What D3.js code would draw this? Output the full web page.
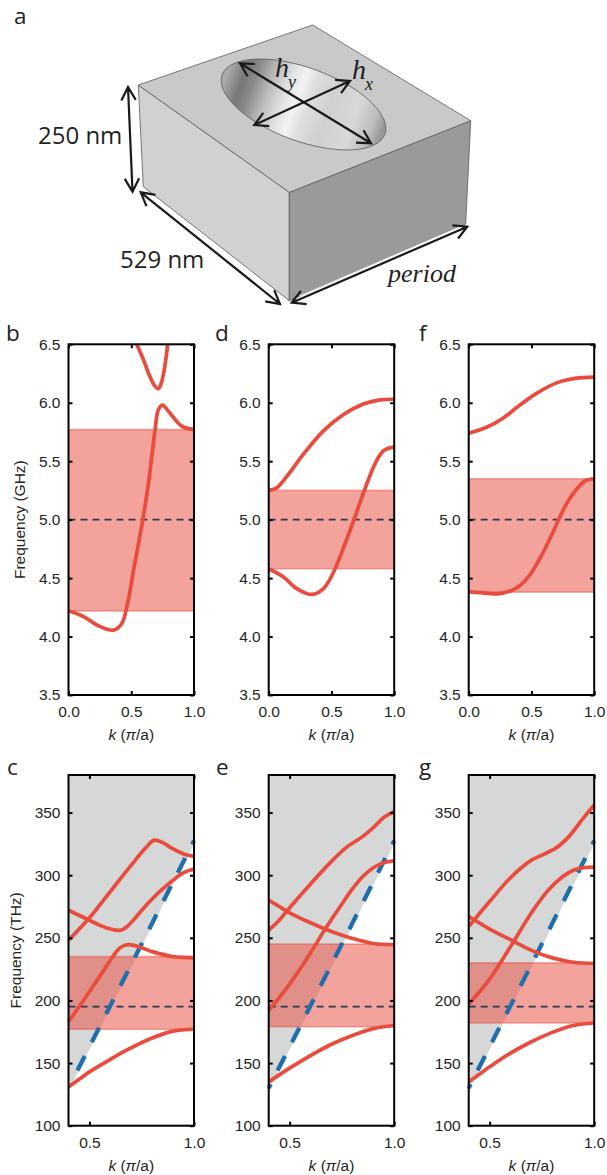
<!DOCTYPE html>
<html><head><meta charset="utf-8">
<script src="https://cdn.jsdelivr.net/npm/d3@7/dist/d3.min.js"></script>
<style>
html,body{margin:0;padding:0;background:#fff}
svg{display:block}
text{fill:#231f20}
</style></head><body>
<svg id="fig" width="607" height="1175"></svg>
<script>
// ---------- data: [k, frequency] ----------
const topYTicks = [3.5,4.0,4.5,5.0,5.5,6.0,6.5];
const topXTicks = [0,0.5,1];
const botYTicks = [100,150,200,250,300,350];
const botXTicks = [0.5,1];

const bLower = [[0,4.22],[0.119,4.17],[0.252,4.085],[0.358,4.055],[0.424,4.11],[0.47,4.28],[0.517,4.56],[0.592,5.0],[0.637,5.31],[0.69,5.77],[0.716,5.94],[0.748,5.98],[0.809,5.91],[0.902,5.80],[1,5.77]];
const bUpper = [[0.544,6.5],[0.6,6.36],[0.65,6.22],[0.69,6.14],[0.716,6.12],[0.74,6.17],[0.77,6.33],[0.79,6.5]];
const dLower = [[0,4.58],[0.117,4.51],[0.223,4.41],[0.343,4.36],[0.436,4.41],[0.516,4.55],[0.596,4.76],[0.676,4.99],[0.769,5.27],[0.848,5.48],[0.915,5.59],[1,5.62]];
const dUpper = [[0,5.25],[0.06,5.27],[0.144,5.37],[0.277,5.56],[0.436,5.76],[0.596,5.90],[0.755,5.99],[0.888,6.025],[1,6.03]];
const fLower = [[0,4.385],[0.093,4.375],[0.227,4.365],[0.333,4.39],[0.413,4.44],[0.493,4.535],[0.573,4.68],[0.653,4.85],[0.725,5.02],[0.787,5.15],[0.867,5.27],[0.933,5.335],[1,5.35]];
const fUpper = [[0,5.74],[0.143,5.79],[0.276,5.87],[0.408,5.98],[0.541,6.08],[0.7,6.17],[0.859,6.21],[1,6.22]];

const c1 = [[0.4,131],[0.45,137],[0.5,143],[0.6,153],[0.68,160.5],[0.8,170],[0.9,175.5],[1,177]];
const c2 = [[0.4,183],[0.5,207],[0.576,226],[0.62,237],[0.65,242.5],[0.688,244.5],[0.75,242],[0.8,239],[0.9,235],[1,234]];
const c3 = [[0.4,248],[0.5,266],[0.6,287],[0.7,308],[0.77,322],[0.81,328],[0.85,326],[0.9,321],[0.95,317],[1,315]];
const c4 = [[0.4,272],[0.45,268],[0.5,264],[0.55,260],[0.6,257],[0.648,256],[0.68,259],[0.72,266],[0.75,272],[0.8,281],[0.85,289],[0.9,296],[0.95,302],[1,305]];
const e1 = [[0.4,135],[0.5,146],[0.6,156],[0.7,165],[0.8,172],[0.9,177.5],[1,180]];
const e2 = [[0.4,192],[0.5,213],[0.6,238],[0.67,257],[0.75,277],[0.8,289],[0.85,299],[0.9,306],[0.95,310],[1,311.5]];
const e3 = [[0.4,256],[0.45,264],[0.5,274],[0.6,293],[0.7,311],[0.77,322],[0.85,331],[0.9,338],[0.95,346],[1,351]];
const e4 = [[0.4,280],[0.45,275],[0.5,270],[0.6,262],[0.7,255],[0.8,249.5],[0.9,245.5],[1,244.5]];
const g1 = [[0.4,135],[0.45,141],[0.5,147],[0.6,158],[0.7,167],[0.8,174.5],[0.9,180],[1,182]];
const g2 = [[0.4,197],[0.5,217],[0.6,243],[0.7,270],[0.78,288],[0.85,299],[0.9,304],[0.95,306],[1,306.5]];
const g3 = [[0.4,259],[0.5,279],[0.6,298],[0.7,312],[0.75,316],[0.82,322],[0.88,331],[0.95,346],[1,356]];
const g4 = [[0.4,267],[0.45,262],[0.5,257],[0.6,248.5],[0.7,240],[0.8,234],[0.9,230.5],[1,229.5]];

const grayEdge = [[0.4,128],[1,325]];
const lightLine = [[0.4,130],[1,327.5]];
const lightLineC = [[0.43,139.9],[1,327.5]];

const panelNames = ["b","d","f","c","e","g"];
const panelBands = {b:[4.22,5.77],d:[4.58,5.25],f:[4.38,5.35],c:[177,235],e:[179,245],g:[182,230]};
const panelCurves = {b:[bLower,bUpper],d:[dLower,dUpper],f:[fLower,fUpper],c:[c1,c2,c3,c4],e:[e1,e2,e3,e4],g:[g1,g2,g3,g4]};
const panelLight = {c:lightLineC,e:lightLine,g:lightLine};
const panelDashOffset = {c:25.9,e:12,g:12};

// ---------- layout ----------
const red="#e94b3c", blue="#1f6fae", grayFill="#d6d8d8", bandFill="#e94739";
const colX = {b:68.5,d:268.7,f:468.7,c:68.5,e:268.7,g:468.7};
const plotW = 125.5;
const sansTick = "'Liberation Sans',Arial,sans-serif";
const sansLetter = "'Open Sans','Noto Sans',sans-serif";
const svg = d3.select("#fig");

function drawPanel(name){
  const isTop = "bdf".includes(name);
  const y0 = isTop?344.3:775, y1 = isTop?695:1125.7;
  const x = d3.scaleLinear().domain(isTop?[0,1]:[0.4,1]).range([0,plotW]);
  const y = d3.scaleLinear().domain(isTop?[3.5,6.5]:[100,380]).range([y1-y0,0]);
  const g = svg.append("g").attr("transform",`translate(${colX[name]},${y0})`);
  const line = d3.line().x(d=>x(d[0])).y(d=>y(d[1])).curve(d3.curveCatmullRom.alpha(0.5));
  const [xa,xb]=x.domain();
  if(!isTop){
    const area=d3.area().x(d=>x(d[0])).y0(d=>y(d[1])).y1(y(380));
    g.append("path").datum(grayEdge).attr("d",area).attr("fill",grayFill);
  }
  const [bl,bh]=panelBands[name];
  g.append("rect").attr("x",x(xa)).attr("width",x(xb)-x(xa)).attr("y",y(bh)).attr("height",y(bl)-y(bh))
    .attr("fill",bandFill).attr("fill-opacity",0.5);
  [bl,bh].forEach(v=>g.append("line").attr("x1",x(xa)).attr("x2",x(xb)).attr("y1",y(v)).attr("y2",y(v))
    .attr("stroke",bandFill).attr("stroke-opacity",0.45).attr("stroke-width",1.6));
  const ref=isTop?5:195;
  g.append("line").attr("x1",x(xa)).attr("x2",x(xb)).attr("y1",y(ref)).attr("y2",y(ref))
    .attr("stroke","#2b3a4e").attr("stroke-width",1.8).attr("stroke-dasharray","7 5");
  if(!isTop){
    g.append("path").datum(panelLight[name]).attr("d",d3.line().x(d=>x(d[0])).y(d=>y(d[1])))
      .attr("fill","none").attr("stroke",blue).attr("stroke-width",4.3)
      .attr("stroke-dasharray","16.4 15.3").attr("stroke-dashoffset",panelDashOffset[name]);
  }
  panelCurves[name].forEach(c=>g.append("path").datum(c).attr("d",line)
    .attr("fill","none").attr("stroke",red).attr("stroke-width",3.7));
  // frame and ticks
  g.append("rect").attr("width",plotW).attr("height",y1-y0).attr("fill","none").attr("stroke","#000").attr("stroke-width",2);
  const yT=isTop?topYTicks:botYTicks, xT=isTop?topXTicks:botXTicks, fmt=isTop?d3.format(".1f"):d3.format("d");
  const axL=g.append("g").call(d3.axisLeft(y).tickValues(yT).tickSize(-4).tickPadding(8).tickFormat(fmt));
  const axR=g.append("g").attr("transform",`translate(${plotW},0)`).call(d3.axisRight(y).tickValues(yT).tickSize(-4).tickFormat(""));
  const axB=g.append("g").attr("transform",`translate(0,${y1-y0})`).call(d3.axisBottom(x).tickValues(xT).tickSize(-4).tickPadding(11).tickFormat(d3.format(".1f")));
  const axT=g.append("g").call(d3.axisTop(x).tickValues(xT).tickSize(-4).tickFormat(""));
  [axL,axR,axB,axT].forEach(a=>{a.select(".domain").remove();a.selectAll("line").attr("stroke","#000").attr("stroke-width",2);
    a.selectAll("text").attr("font-family",sansTick).attr("font-size",15.5).attr("fill","#231f20");});
  // x label
  const t=g.append("text").attr("x",plotW/2).attr("y",y1-y0+45.5).attr("text-anchor","middle").attr("font-family",sansTick).attr("font-size",15.5);
  t.append("tspan").attr("font-style","italic").text("k");
  t.append("tspan").text(" (");
  t.append("tspan").attr("font-style","italic").text("π");
  t.append("tspan").text("/a)");
  // y label
  if(name==="b"||name==="c"){
    const cx=name==="b"?-43.5:-47.5, cy=(y1-y0)/2;
    g.append("text").attr("transform",`translate(${cx},${cy}) rotate(-90)`).attr("text-anchor","middle")
      .attr("font-family",sansTick).attr("font-size",15.5).text(name==="b"?"Frequency (GHz)":"Frequency (THz)");
  }
}
panelNames.forEach(drawPanel);

// panel letters
const letterPos = {a:[14,24.2],b:[6,341],d:[215,341],f:[419,341],c:[7,775],e:[216,775],g:[419,775]};
Object.entries(letterPos).forEach(([k,p])=>svg.append("text").attr("x",p[0]).attr("y",p[1])
  .attr("font-family",sansLetter).attr("font-size",22.5).text(k));

// ---------- schematic, panel a ----------
const schem = svg.append("g");
const topFace=[[138.3,85],[312.7,25],[470.7,120.7],[289.3,192.3]];
const leftFace=[[138.3,85],[289.3,192.3],[289.3,300.7],[143.3,186.7]];
const rightFace=[[289.3,192.3],[470.7,120.7],[465.7,224],[289.3,300.7]];
const poly=d3.line().curve(d3.curveLinearClosed);
[[leftFace,"#d1d1d1"],[rightFace,"#9a9a9a"],[topFace,"#c9c9c9"]].forEach(([p,c])=>
  schem.append("path").attr("d",poly(p)).attr("fill",c).attr("stroke","#5a5a5a").attr("stroke-width",0.8).attr("stroke-linejoin","round"));
const grad=svg.append("defs").append("linearGradient").attr("id","hole").attr("gradientUnits","userSpaceOnUse")
  .attr("x1",221).attr("x2",386).attr("y1",0).attr("y2",0);
[[0,"#aaaaaa"],[0.1,"#777777"],[0.17,"#8a8a8a"],[0.27,"#bbbbbb"],[0.37,"#e0e0e0"],[0.45,"#f3f3f3"],[0.53,"#dddddd"],[0.65,"#d0d0d0"],[0.82,"#d8d8d8"],[0.94,"#bbbbbb"],[1,"#999999"]]
  .forEach(([o,c])=>grad.append("stop").attr("offset",o).attr("stop-color",c));
schem.append("ellipse").attr("cx",303.5).attr("cy",104.5).attr("rx",86.6).attr("ry",36.7)
  .attr("transform","rotate(20 303.5 104.5)").attr("fill","url(#hole)").attr("stroke","#555").attr("stroke-width",0.7);

function arrow(a,b){
  const ang=Math.atan2(b[1]-a[1],b[0]-a[0]), L=15, w=0.5;
  const head=(p,th)=>`M${p[0]+L*Math.cos(th+w)},${p[1]+L*Math.sin(th+w)}L${p[0]},${p[1]}L${p[0]+L*Math.cos(th-w)},${p[1]+L*Math.sin(th-w)}`;
  schem.append("path").attr("d",`M${a[0]},${a[1]}L${b[0]},${b[1]}`+head(a,ang)+head(b,ang+Math.PI))
    .attr("fill","none").attr("stroke","#1a1a1a").attr("stroke-width",2.2);
}
// white gap beside the period arrow
schem.append("line").attr("x1",300).attr("y1",296).attr("x2",462).attr("y2",226).attr("stroke","#fff").attr("stroke-width",1);
arrow([128,87],[132.5,191.7]);
arrow([140.7,192.3],[280,304]);
arrow([291.7,302.7],[467.3,226.7]);
arrow([240,63.3],[371,143.3]);
arrow([254.3,125],[350,81]);

const labelFont="'Open Sans','Noto Sans',sans-serif", serif="'Liberation Serif',serif";
function label(txt,x,y,size,fam,it){
  return schem.append("text").attr("x",x).attr("y",y).attr("font-size",size).attr("font-family",fam)
    .attr("font-style",it?"italic":"normal").text(txt);
}
label("250 nm",38,144,24,labelFont,false);
label("529 nm",120,268,24,labelFont,false);
label("period",388,282,26,serif,true);
label("h",275,77,28,serif,true);
label("y",288,88,18,serif,true);
label("h",352,79,28,serif,true);
label("x",365,90,18,serif,true);
</script>
</body></html>
